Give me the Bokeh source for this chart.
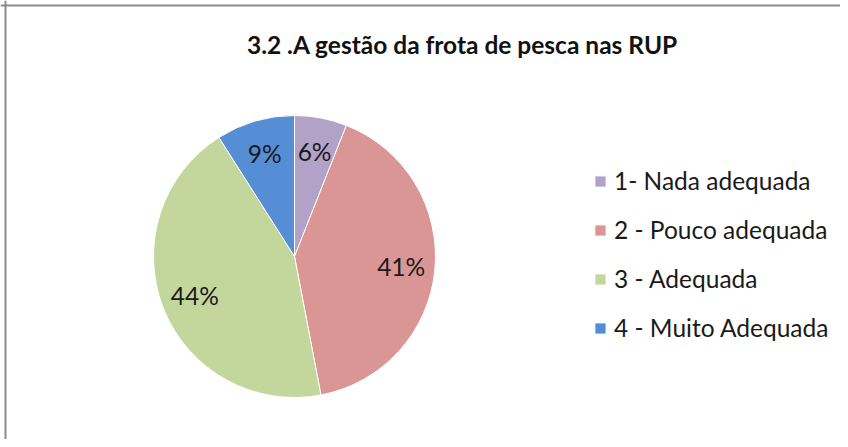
import numpy as np
from bokeh.plotting import figure
from bokeh.models import ColumnDataSource, Range1d, Legend, LegendItem, Label, Span
from bokeh.core.properties import value
from bokeh.embed import file_html
from bokeh.resources import INLINE

title_text = "3.2 .A gestão da frota de pesca nas RUP"
categories = ["1- Nada adequada", "2 - Pouco adequada", "3 - Adequada", "4 - Muito Adequada"]
values = [6, 41, 44, 9]
pct_labels = ["6%", "41%", "44%", "9%"]
colors = ["#B3A2C7", "#D99694", "#C3D69B", "#558ED5"]

# data units are pixels, y upward
W, H = 840, 439
CX, CY, R = 294, 183, 141
FONT = "Lato"

vals = np.array(values, dtype=float)
frac = vals / vals.sum()
cum = np.concatenate([[0], np.cumsum(frac)])
start = np.pi / 2 - 2 * np.pi * cum[:-1]
end = np.pi / 2 - 2 * np.pi * cum[1:]
mid = (start + end) / 2

src = ColumnDataSource(dict(
    cat=categories, start=start, end=end, color=colors,
    lx=CX + 0.76 * R * np.cos(mid), ly=CY + 0.76 * R * np.sin(mid), lab=pct_labels,
))

p = figure(width=W, height=H, x_range=Range1d(0, W), y_range=Range1d(0, H),
           output_backend="svg", toolbar_location=None, min_border=0,
           x_axis_type=None, y_axis_type=None)
p.grid.visible = False
p.outline_line_color = None
p.background_fill_color = "white"

r = p.wedge(x=CX, y=CY, radius=R, start_angle="start", end_angle="end",
            direction="clock", fill_color="color", line_color="white",
            line_width=1, source=src)

p.text(x="lx", y="ly", text="lab", source=src, text_align="center",
       text_baseline="middle", text_font=value(FONT), text_font_size="24.5px",
       text_color="#1a1a1a")

p.add_layout(Label(x=462, y=395, text=title_text, text_align="center",
                   text_baseline="middle", text_font=FONT, text_font_size="24.5px",
                   text_font_style="bold", text_color="#111111"))

p.add_layout(Span(location=5, dimension="height", line_color="#8c8c8c", line_width=2))
p.add_layout(Span(location=434, dimension="width", line_color="#8c8c8c", line_width=2))

items = [LegendItem(label=c, renderers=[r], index=i) for i, c in enumerate(categories)]
legend = Legend(items=items, location=(593, 97), orientation="vertical",
                glyph_width=14, glyph_height=14, label_standoff=7, spacing=20,
                label_height=24, padding=0, margin=0,
                label_text_font=FONT, label_text_font_size="24.5px",
                label_text_color="#1a1a1a",
                border_line_color=None, background_fill_alpha=0)
p.add_layout(legend)

open("out.html", "w").write(file_html(p, INLINE))
